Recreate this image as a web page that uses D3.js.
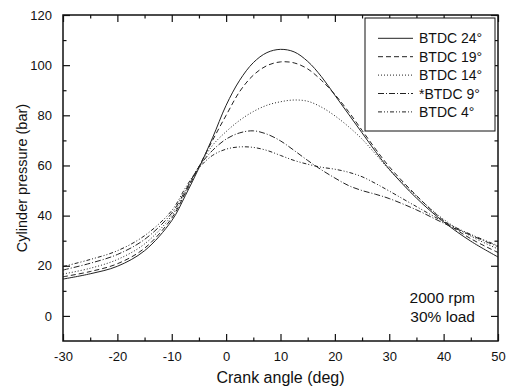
<!DOCTYPE html>
<html><head><meta charset="utf-8">
<script src="https://cdn.jsdelivr.net/npm/d3@7"></script>
<style>body{margin:0;background:#fff}svg{display:block}text{font-family:Arial,"Liberation Sans",sans-serif;fill:#111}</style>
</head><body><svg id="c" width="507" height="389"></svg>
<script>
const angles = [-30,-25,-20,-15,-10,-7.5,-5,-2.5,0,2.5,5,7.5,10,12.5,15,17.5,20,22.5,25,27.5,30,35,40,45,50];
const btdc24 = [14.7,16.8,19.8,26,38,48,59,71,84,94,101,105,106.3,105.3,101.5,95.5,88,80.5,73,65.5,58.5,47,37.5,29.8,23.5];
const btdc19 = [15.6,17.7,20.8,27,39,49,59.5,70,80,89.5,96,99.8,101.3,100.9,98.5,94,88.3,81.5,74,66.5,59.5,48,38,30.8,25.3];
const btdc14 = [16.7,19,22.5,28.7,40,49.5,59.5,68,73.5,78,81.5,84,85.4,86.1,85.6,83.3,79.8,75.5,70.5,64.5,58.3,47.8,38.5,31.8,26.7];
const btdc9  = [18.3,21,24.5,30.5,41,50,59.5,66,70.5,73,73.8,72.5,69.8,66,62,58.3,55,52,50,48.5,46.8,42.3,37,32.2,27.6];
const btdc4  = [19.7,22.5,26,32,42,51,59,64,66.5,67.4,67.2,66,64,62,60.5,59.3,58.5,57.3,55.5,52.8,49.8,43.6,37.6,32.5,28];
const seriesNames = ["BTDC 24°","BTDC 19°","BTDC 14°","*BTDC 9°","BTDC 4°"];
const seriesValues = [btdc24,btdc19,btdc14,btdc9,btdc4];
const dashes = [null,"5,3","1,2","6,2,1,2","4,2,1,2,1,2"];
const xTicks = [-30,-20,-10,0,10,20,30,40,50];
const yTicks = [0,20,40,60,80,100,120];
const annotation = ["2000 rpm","30% load"];

const svg = d3.select("#c");
const L=63,R=498,T=15,B=341;
const x = d3.scaleLinear().domain([-30,50]).range([L,R]);
const y = d3.scaleLinear().domain([-10,120]).range([B,T]);

// lines
const line = d3.line().x(d=>x(d[0])).y(d=>y(d[1])).curve(d3.curveCatmullRom.alpha(0.5));
seriesValues.forEach((vals,i)=>{
  svg.append("path").datum(angles.map((a,j)=>[a,vals[j]]))
    .attr("d",line).attr("fill","none").attr("stroke","#222").attr("stroke-width",1)
    .attr("stroke-dasharray",dashes[i]);
});

// axes
const minorX = d3.range(-25,50,10);
const minorY = d3.range(-10,121,20).filter(v=>v>-10);
const fmt = d=>String(d);
const axBottom = d3.axisBottom(x).tickValues(xTicks).tickSize(-7).tickPadding(11).tickFormat(fmt);
const axTop = d3.axisTop(x).tickValues(xTicks).tickSize(-7).tickFormat("");
const axLeft = d3.axisLeft(y).tickValues(yTicks).tickSize(-7).tickPadding(11).tickFormat(fmt);
const axRight = d3.axisRight(y).tickValues(yTicks).tickSize(-7).tickFormat("");
svg.append("g").attr("transform",`translate(0,${B})`).call(axBottom);
svg.append("g").attr("transform",`translate(0,${T})`).call(axTop);
svg.append("g").attr("transform",`translate(${L},0)`).call(axLeft);
svg.append("g").attr("transform",`translate(${R},0)`).call(axRight);
svg.append("g").attr("transform",`translate(0,${B})`).call(d3.axisBottom(x).tickValues(minorX).tickSize(-3.5).tickFormat(""));
svg.append("g").attr("transform",`translate(0,${T})`).call(d3.axisTop(x).tickValues(minorX).tickSize(-3.5).tickFormat(""));
svg.append("g").attr("transform",`translate(${L},0)`).call(d3.axisLeft(y).tickValues(minorY).tickSize(-3.5).tickFormat(""));
svg.append("g").attr("transform",`translate(${R},0)`).call(d3.axisRight(y).tickValues(minorY).tickSize(-3.5).tickFormat(""));
svg.selectAll(".domain").remove();
svg.selectAll(".tick line").attr("stroke","#111").attr("stroke-width",1.2);
svg.selectAll(".tick text").style("font-size","13px").attr("fill","#111");
svg.append("rect").attr("x",L).attr("y",T).attr("width",R-L).attr("height",B-T)
  .attr("fill","none").attr("stroke","#111").attr("stroke-width",1.5);

// titles
svg.append("text").attr("x",(L+R)/2).attr("y",383).attr("text-anchor","middle")
  .style("font-size","16px").text("Crank angle (deg)");
svg.append("text").attr("transform",`translate(27,${(T+B)/2}) rotate(-90)`).attr("text-anchor","middle")
  .style("font-size","14.5px").text("Cylinder pressure (bar)");

// legend
svg.append("rect").attr("x",365).attr("y",18).attr("width",130).attr("height",113)
  .attr("fill","#fff").attr("stroke","#111").attr("stroke-width",1);
seriesNames.forEach((n,i)=>{
  const ly = 38.3 + i*18.4;
  svg.append("line").attr("x1",378).attr("x2",413).attr("y1",ly).attr("y2",ly)
    .attr("stroke","#222").attr("stroke-width",1).attr("stroke-dasharray",dashes[i]);
  svg.append("text").attr("x",419).attr("y",ly+5).style("font-size","14px").text(n);
});

// annotation
annotation.forEach((t,i)=>{
  svg.append("text").attr("x",475).attr("y",303+i*19).attr("text-anchor","end")
    .style("font-size","15.5px").text(t);
});
</script></body></html>
